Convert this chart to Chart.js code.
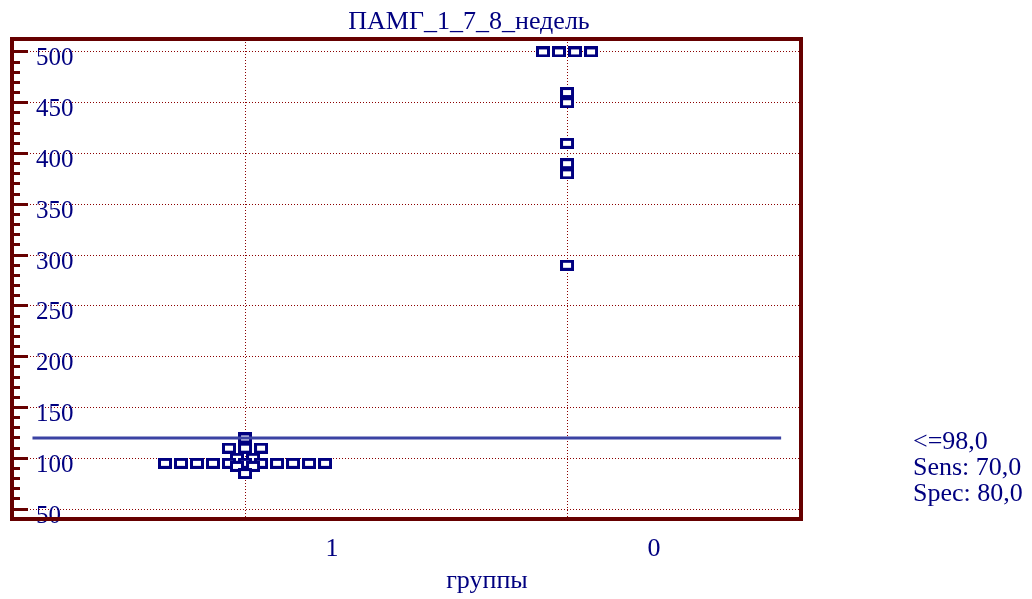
<!DOCTYPE html>
<html>
<head>
<meta charset="utf-8">
<script src="https://cdn.jsdelivr.net/npm/chart.js@4.4.1/dist/chart.umd.min.js"></script>
<style>
    html, body { margin: 0; padding: 0; background: #ffffff; }
</style>
</head>
<body>
<canvas id="dotplot" width="1032" height="599"></canvas>
<script>
// groups in the order they appear on the x axis
const groups = ["1", "0"];
const group1Values = [120, 110, 110, 110, 100, 100, 95, 95, 95, 95, 95, 95, 95, 95, 95, 95, 95, 92, 92, 85];
const group0Values = [500, 500, 500, 500, 460, 450, 410, 390, 380, 290];
const cutoffValue = 120;
const cutoffFrom = 0.34;
const cutoffTo = 2.665;
const yTickValues = [50, 100, 150, 200, 250, 300, 350, 400, 450, 500];
const chartTitle = "ПАМГ_1_7_8_недель";
const xAxisTitle = "группы";
const criterionLines = ["<=98,0", "Sens: 70,0", "Spec: 80,0"];

const navy = "#000080";
const frameRed = "#660000";
const gridRed = "#8b0000";
const lineBlue = "#3b43a3";
const serif = "'Liberation Serif', 'Times New Roman', serif";

const yMin = 40.24, yMax = 512.7;
const xMin = 0.2764, xMax = 2.7267;
const dotSpacing = 0.0497;

// equal values are put side by side, like a dot plot does
function spreadTies(values, groupPos) {
    let counts = {};
    values.forEach(v => counts[v] = (counts[v] || 0) + 1);
    let seen = {};
    return values.map(v => {
        seen[v] = (seen[v] || 0) + 1;
        let offset = (seen[v] - 1 - (counts[v] - 1) / 2) * dotSpacing;
        return { x: groupPos + offset, y: v };
    });
}

function makeMarker() {
    let c = document.createElement("canvas");
    c.width = 14;
    c.height = 11;
    let g = c.getContext("2d");
    g.fillStyle = "#ffffff";
    g.fillRect(1, 1, 12, 9);
    g.strokeStyle = navy;
    g.lineWidth = 3;
    g.strokeRect(1.5, 1.5, 11, 8);
    return c;
}

const minorTicks = [];
for (let v = yTickValues[0]; v <= yTickValues[yTickValues.length - 1]; v += 10) minorTicks.push(v);

const textPlugin = {
    id: "medcalcText",
    afterDraw(chart) {
        const { ctx, chartArea } = chart;
        ctx.save();
        ctx.strokeStyle = frameRed;
        ctx.lineWidth = 4;
        ctx.strokeRect(chartArea.left, chartArea.top, chartArea.right - chartArea.left, chartArea.bottom - chartArea.top);
        ctx.fillStyle = navy;
        ctx.font = "26px " + serif;
        ctx.textBaseline = "alphabetic";
        ctx.textAlign = "center";
        ctx.fillText(chartTitle, 469, 29);
        ctx.fillText(xAxisTitle, 487, 588);
        ctx.textAlign = "left";
        criterionLines.forEach((t, i) => ctx.fillText(t, 913, 449 + i * 25.8));
        ctx.restore();
    }
};

const marker = makeMarker();

new Chart(document.getElementById("dotplot"), {
    type: "scatter",
    data: {
        datasets: [
            {
                data: spreadTies(group1Values, 1).concat(spreadTies(group0Values, 2)),
                pointStyle: marker,
                pointRadius: 7,
                order: 1
            },
            {
                type: "line",
                data: [{ x: cutoffFrom, y: cutoffValue }, { x: cutoffTo, y: cutoffValue }],
                borderColor: lineBlue,
                borderWidth: 3,
                pointRadius: 0,
                showLine: true,
                order: 0
            }
        ]
    },
    options: {
        responsive: false,
        animation: false,
        devicePixelRatio: 1,
        layout: { padding: { left: 12, top: 35, right: 231, bottom: 0 } },
        plugins: {
            legend: { display: false },
            tooltip: { enabled: false }
        },
        scales: {
            x: {
                type: "linear",
                min: xMin,
                max: xMax,
                afterBuildTicks: s => { s.ticks = groups.map((g, i) => ({ value: i + 1 })); },
                afterFit: s => { s.height = 80; },
                grid: { color: gridRed, lineWidth: 1, drawTicks: false },
                border: { display: false, dash: [1, 2] },
                ticks: {
                    callback: v => groups[v - 1],
                    labelOffset: 87,
                    padding: 15,
                    maxRotation: 0,
                    color: navy,
                    font: { family: serif, size: 26 }
                }
            },
            y: {
                position: "left",
                min: yMin,
                max: yMax,
                afterBuildTicks: s => { s.ticks = yTickValues.map(v => ({ value: v })); },
                afterFit: s => { s.width = 0; },
                grid: { color: gridRed, lineWidth: 1, tickLength: -16, tickWidth: 3, tickColor: frameRed },
                border: { display: false, dash: [1, 2] },
                ticks: {
                    mirror: true,
                    padding: 24,
                    labelOffset: 7,
                    color: navy,
                    font: { family: serif, size: 25 }
                }
            },
            yMinor: {
                position: "left",
                min: yMin,
                max: yMax,
                afterBuildTicks: s => { s.ticks = minorTicks.map(v => ({ value: v })); },
                afterFit: s => { s.width = 0; },
                grid: { drawOnChartArea: false, tickLength: -8, tickWidth: 3, tickColor: frameRed },
                border: { display: false },
                ticks: { display: false }
            }
        }
    },
    plugins: [textPlugin]
});
</script>
</body>
</html>
